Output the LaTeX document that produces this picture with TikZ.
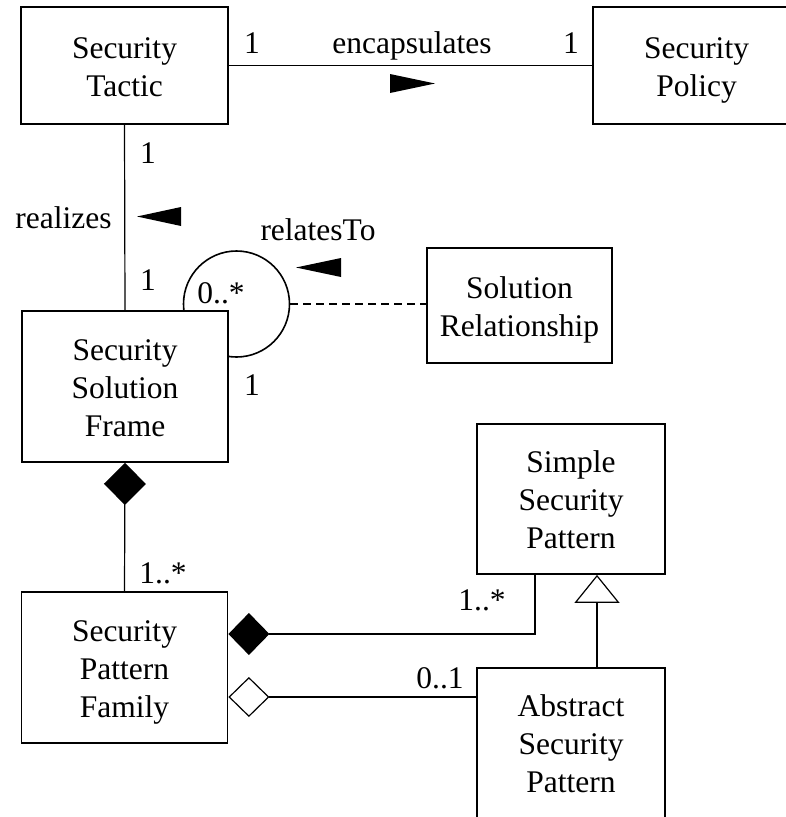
\documentclass[tikz,border=0pt]{standalone}
\usepackage{fontspec}
\setmainfont{Liberation Serif}
\usetikzlibrary{arrows.meta}
% class name set as centred lines, sitting a little below the box centre
\newcommand\clsname[1]{\raisebox{0pt}[\dimexpr\height+8pt\relax][\depth]{\begin{tabular}{@{}c@{}}#1\end{tabular}}}
\begin{document}
\begin{tikzpicture}[x=1pt,y=-1pt,
  txt/.style={font=\fontsize{31.5}{38}\selectfont},
  cls/.style={txt, draw, line width=1.8pt, fill=white, inner sep=0pt},
  lbl/.style={txt, inner sep=0pt, anchor=base},
  conn/.style={line width=1.2pt},
  marker/.style={fill=black}]
\clip (0,0) rectangle (786,817);

% self-association loop on the frame (the box hides its inner part)
\node[circle, draw, line width=1.6pt, minimum size=106pt, inner sep=0pt] (loop) at (236.5,304) {};

% classes
\node[cls, minimum width=207pt, minimum height=117pt] (tactic) at (124.5,65.5) {\clsname{Security\\Tactic}};
\node[cls, minimum width=207pt, minimum height=117pt] (policy) at (696.5,65.5) {\clsname{Security\\Policy}};
\node[cls, minimum width=206pt, minimum height=151pt] (frame) at (125,386.5) {\clsname{Security\\Solution\\Frame}};
\node[cls, minimum width=185pt, minimum height=115pt] (solrel) at (519.5,305.5) {\clsname{Solution\\Relationship}};
\node[cls, minimum width=206pt, minimum height=151pt] (family) at (124.5,667.5) {\clsname{Security\\Pattern\\Family}};
\node[cls, minimum width=188pt, minimum height=150pt] (simple) at (571,499) {\clsname{Simple\\Security\\Pattern}};
\node[cls, minimum width=188pt, minimum height=150pt] (abstract) at (571,743) {\clsname{Abstract\\Security\\Pattern}};

% associations
\draw[conn] (tactic.east) -- (policy.west);
\draw[conn] (tactic.south) -- (frame.north);
\draw[conn, dash pattern=on 8pt off 5pt] (loop.east) -- (loop.east -| solrel.west);
\draw[conn, {Diamond[length=42pt,width=42pt]}-] (frame.south) -- (family.north);
\draw[conn, {Diamond[length=41pt,width=42pt]}-] ([yshift=33.5pt]family.east) -| ([xshift=-36pt]simple.south);
\draw[conn, {Diamond[open,fill=white,length=41pt,width=40pt]}-] ([yshift=-29.5pt]family.east) -- ([yshift=-29.5pt]family.east -| abstract.west);
\draw[conn, -{Triangle[open,fill=white,length=28pt,width=45pt]}] ([xshift=26pt]abstract.north) -- ([xshift=26pt]simple.south);

% reading-direction markers
\fill[marker] (390,74) -- (435,83.5) -- (390,93) -- cycle;
\fill[marker] (181,207) -- (137,216.5) -- (181,226) -- cycle;
\fill[marker] (341,258) -- (296,267.5) -- (341,277) -- cycle;

% role names and multiplicities
\node[lbl] (m1) at (252,53) {1};
\node[lbl] (enc) at (412,53) {encapsulates};
\node[lbl] (m2) at (571,53) {1};
\node[lbl] (m3) at (148,163) {1};
\node[lbl] (real) at (63.5,228) {realizes};
\node[lbl] (m4) at (148,290) {1};
\node[lbl] (rel) at (318,240) {relatesTo};
\node[lbl] (m5) at (221,303) {0..*};
\node[lbl] (m6) at (252,395) {1};
\node[lbl] (m7) at (163,583) {1..*};
\node[lbl] (m8) at (482,610) {1..*};
\node[lbl] (m9) at (440,688) {0..1};
\end{tikzpicture}
\end{document}
